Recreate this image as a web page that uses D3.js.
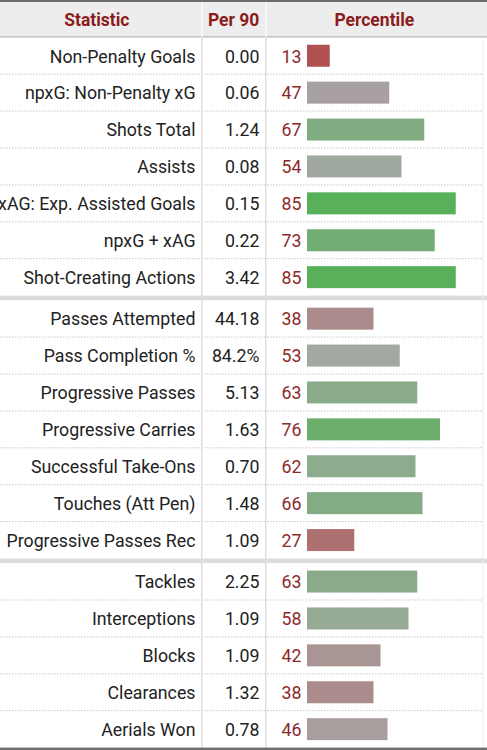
<!DOCTYPE html>
<html>
<head>
<meta charset="utf-8">
<script src="https://cdn.jsdelivr.net/npm/d3@7"></script>
<style>
  html, body { margin: 0; padding: 0; background: #fff; }
  svg { display: block; font-family: Roboto, "Noto Sans", sans-serif; }
</style>
</head>
<body>
<script>
// Chart data.
var statNames = [
  "Non-Penalty Goals", "npxG: Non-Penalty xG", "Shots Total", "Assists",
  "xAG: Exp. Assisted Goals", "npxG + xAG", "Shot-Creating Actions",
  "Passes Attempted", "Pass Completion %", "Progressive Passes",
  "Progressive Carries", "Successful Take-Ons", "Touches (Att Pen)",
  "Progressive Passes Rec",
  "Tackles", "Interceptions", "Blocks", "Clearances", "Aerials Won"
];
var per90 = [
  "0.00", "0.06", "1.24", "0.08", "0.15", "0.22", "3.42",
  "44.18", "84.2%", "5.13", "1.63", "0.70", "1.48", "1.09",
  "2.25", "1.09", "1.09", "1.32", "0.78"
];
var percentiles = [
  13, 47, 67, 54, 85, 73, 85,
  38, 53, 63, 76, 62, 66, 27,
  63, 58, 42, 38, 46
];
var sectionSizes = [7, 7, 5];
var headers = ["Statistic", "Per 90", "Percentile"];

// Layout.
var width = 487,
  height = 750,
  tableLeft = -8,
  tableRight = 483,
  col1 = 201.7,
  col2 = 265.7,
  headerTop = 2,
  headerBottom = 37.3,
  rowH = 36.9,
  gapH = 4.6,
  barLeft = 307,
  barH = 22,
  fontSize = 17.75;

var rows = statNames.map(function(name, i) {
  var section = 0, acc = 0;
  while (i >= acc + sectionSizes[section]) { acc += sectionSizes[section]; section++; }
  return { name: name, per90: per90[i], pct: percentiles[i], section: section, index: i, first: i === acc };
});

var y = d3.scaleLinear()
    .domain([0, 1])
    .range([headerBottom, headerBottom + rowH]);
function rowTop(d) { return y(d.index) + d.section * gapH; }

var x = d3.scaleLinear()
    .domain([0, 100])
    .range([0, 175]);

var color = d3.scaleLinear()
    .domain([0, 50, 100])
    .range(["#b33131", "#a8a8a8", "#36b336"]);

var svg = d3.select("body").append("svg")
    .attr("width", width)
    .attr("height", height);

// Header.
svg.append("rect")
    .attr("x", 0).attr("y", 0)
    .attr("width", width).attr("height", headerBottom)
    .attr("fill", "#ededed");
svg.append("rect")
    .attr("x", 0).attr("y", 0)
    .attr("width", width).attr("height", headerTop)
    .attr("fill", "#6e6e6e");
svg.append("line")
    .attr("x1", 0).attr("x2", width)
    .attr("y1", headerBottom - 0.5).attr("y2", headerBottom - 0.5)
    .attr("stroke", "#b8b8b8").attr("stroke-width", 1.2);

var headerCenters = [(tableLeft + col1) / 2, (col1 + col2) / 2, (col2 + tableRight) / 2];
svg.selectAll("text.header")
    .data(headers)
  .enter().append("text")
    .attr("class", "header")
    .attr("x", function(d, i) { return headerCenters[i]; })
    .attr("y", (headerTop + headerBottom) / 2 + 6)
    .attr("text-anchor", "middle")
    .attr("font-weight", "bold")
    .attr("font-size", 17.5)
    .attr("fill", "#8c1c1c")
    .text(function(d) { return d; });

// Section separators.
var lastRow = rows[rows.length - 1];
svg.selectAll("rect.sep")
    .data(rows.filter(function(d) { return d.first && d.section > 0; }))
  .enter().append("rect")
    .attr("class", "sep")
    .attr("x", 0)
    .attr("y", function(d) { return rowTop(d) - gapH; })
    .attr("width", width)
    .attr("height", gapH)
    .attr("fill", "#dcdcdc");

// Dotted row lines.
svg.selectAll("line.row")
    .data(rows.filter(function(d) { return !d.first; }))
  .enter().append("line")
    .attr("class", "row")
    .attr("x1", 0).attr("x2", tableRight)
    .attr("y1", function(d) { return rowTop(d); })
    .attr("y2", function(d) { return rowTop(d); })
    .attr("stroke", "#c8c8c8")
    .attr("stroke-dasharray", "1.5,1.5");

// Column lines.
var bottom = rowTop(lastRow) + rowH;
[col1, col2].forEach(function(cx) {
  svg.append("line")
      .attr("x1", cx).attr("x2", cx)
      .attr("y1", headerTop).attr("y2", headerBottom)
      .attr("stroke", "#fafafa").attr("stroke-width", 1.5);
  svg.append("line")
      .attr("x1", cx).attr("x2", cx)
      .attr("y1", headerBottom).attr("y2", bottom)
      .attr("stroke", "#dedede").attr("stroke-width", 1.5);
});
svg.append("line")
    .attr("x1", tableRight).attr("x2", tableRight)
    .attr("y1", headerBottom).attr("y2", bottom)
    .attr("stroke", "#ececec").attr("stroke-width", 1);

// Bottom border.
svg.append("rect")
    .attr("x", 0).attr("y", bottom)
    .attr("width", width).attr("height", height - bottom)
    .attr("fill", "#6e6e6e");

// Rows.
var rowG = svg.selectAll("g.rowg")
    .data(rows)
  .enter().append("g")
    .attr("class", "rowg")
    .attr("transform", function(d) { return "translate(0," + (rowTop(d) + rowH / 2) + ")"; });

rowG.append("text")
    .attr("x", 195.5)
    .attr("dy", "0.38em")
    .attr("text-anchor", "end")
    .attr("font-size", fontSize)
    .attr("fill", "#222")
    .text(function(d) { return d.name; });

rowG.append("text")
    .attr("x", 259.5)
    .attr("dy", "0.38em")
    .attr("text-anchor", "end")
    .attr("font-size", fontSize)
    .attr("fill", "#222")
    .text(function(d) { return d.per90; });

rowG.append("text")
    .attr("x", 301.5)
    .attr("dy", "0.38em")
    .attr("text-anchor", "end")
    .attr("font-size", fontSize)
    .attr("fill", "#8c2a2a")
    .text(function(d) { return d.pct; });

rowG.append("rect")
    .attr("x", barLeft)
    .attr("y", -barH / 2)
    .attr("width", function(d) { return x(d.pct); })
    .attr("height", barH)
    .attr("fill", function(d) { return color(d.pct); });
</script>
</body>
</html>
